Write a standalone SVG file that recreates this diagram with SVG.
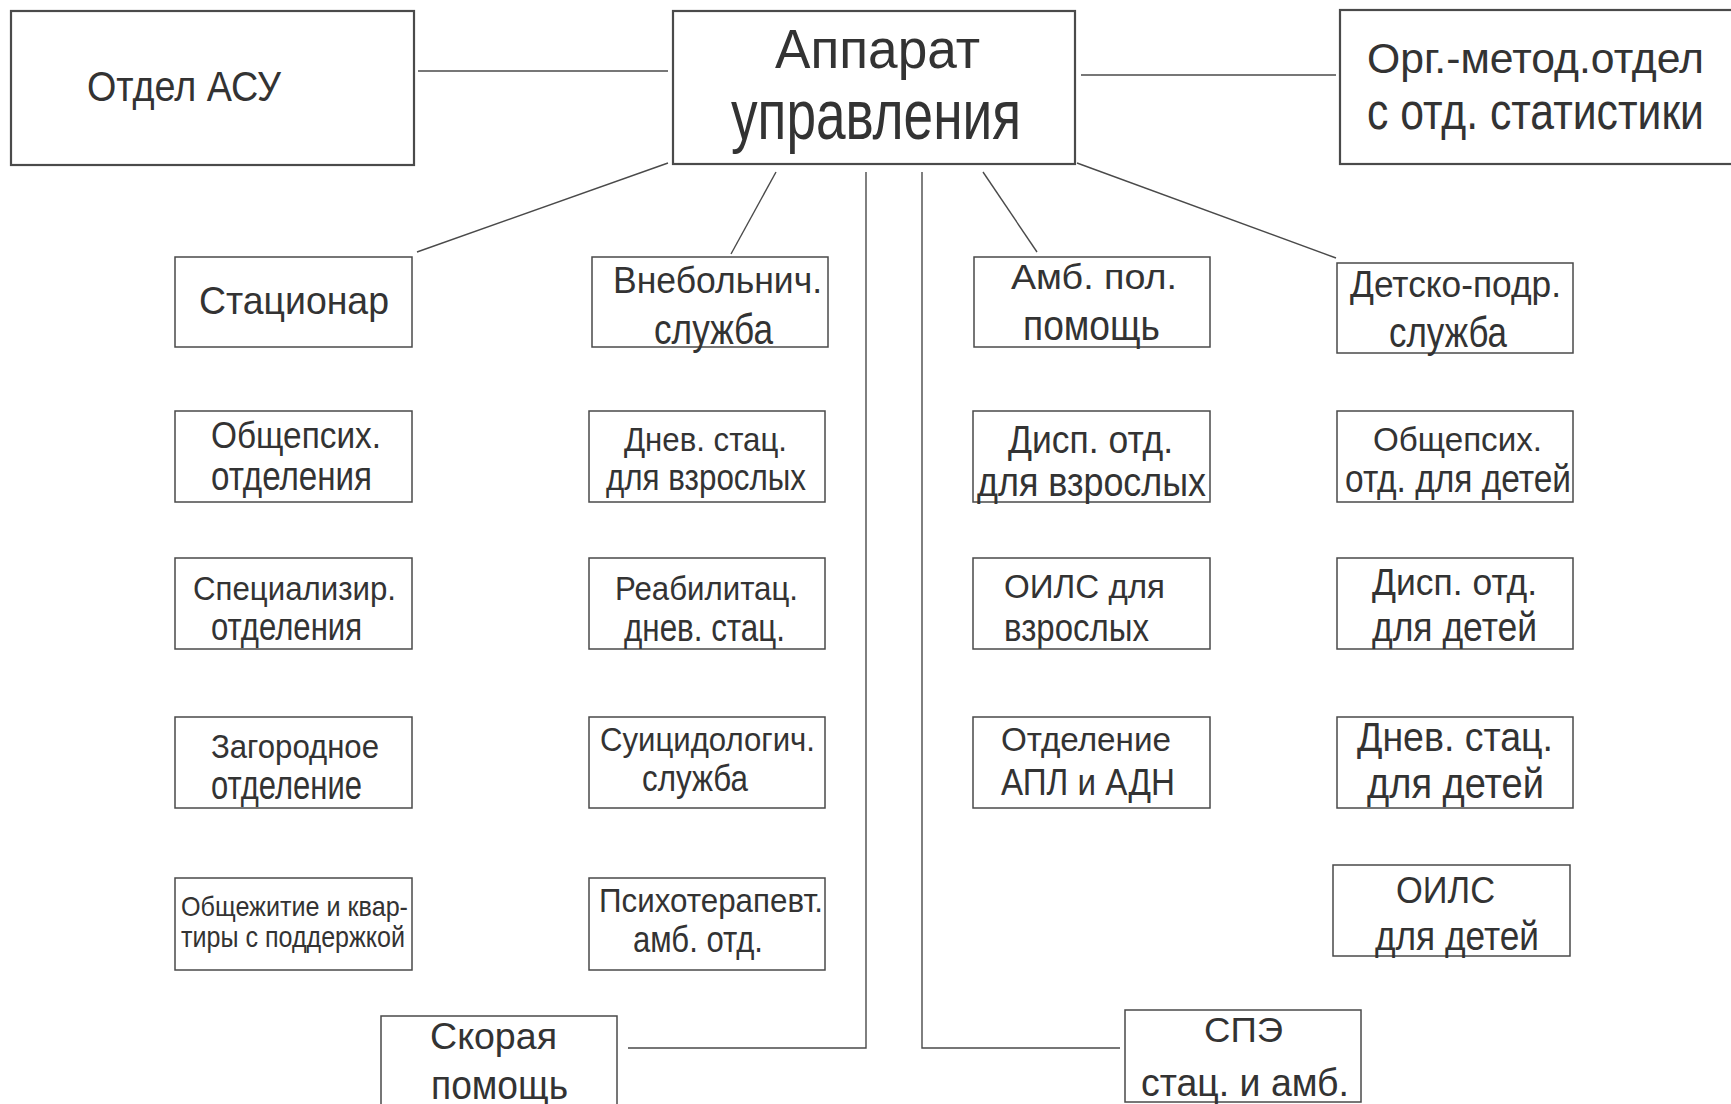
<svg xmlns="http://www.w3.org/2000/svg" width="1731" height="1104" viewBox="0 0 1731 1104">
<style>
.box{fill:#fff;stroke:#4a4a4a;stroke-width:1.5}
.big{stroke-width:2.2}
.t{font-family:"Liberation Sans",Arial,sans-serif;fill:#333}
.c{fill:none;stroke:#4a4a4a;stroke-width:1.4}
</style>
<rect width="1731" height="1104" fill="#fff"/>
<g id="connectors">
<line class="c" x1="418" y1="71" x2="668" y2="71"/>
<line class="c" x1="1081" y1="75" x2="1336" y2="75"/>
<line class="c" x1="668" y1="163" x2="417" y2="252"/>
<line class="c" x1="776" y1="172" x2="731" y2="254"/>
<polyline class="c" points="866,172 866,1048 628,1048"/>
<polyline class="c" points="922,172 922,1048 1120,1048"/>
<line class="c" x1="983" y1="172" x2="1037" y2="252"/>
<line class="c" x1="1077" y1="163" x2="1336" y2="258"/>
</g>
<g id="n_asu"><rect class="box big" x="11" y="11" width="403" height="154"/>
<text class="t" x="87" y="101" font-size="42" textLength="194" lengthAdjust="spacingAndGlyphs">Отдел АСУ</text></g>
<g id="n_app"><rect class="box big" x="673" y="11" width="402" height="153"/>
<text class="t" x="775" y="68" font-size="55" textLength="205" lengthAdjust="spacingAndGlyphs">Аппарат</text>
<text class="t" x="731" y="139" font-size="70" textLength="290" lengthAdjust="spacingAndGlyphs">управления</text></g>
<g id="n_org"><rect class="box big" x="1340" y="10" width="400" height="154"/>
<text class="t" x="1367" y="73" font-size="43" textLength="337" lengthAdjust="spacingAndGlyphs">Орг.-метод.отдел</text>
<text class="t" x="1367" y="129" font-size="52" textLength="337" lengthAdjust="spacingAndGlyphs">с отд. статистики</text></g>
<g id="n_stac"><rect class="box" x="175" y="257" width="237" height="90"/>
<text class="t" x="199" y="314" font-size="39" textLength="190" lengthAdjust="spacingAndGlyphs">Стационар</text></g>
<g id="n_vneb"><rect class="box" x="592" y="257" width="236" height="90"/>
<text class="t" x="613" y="293" font-size="36" textLength="209" lengthAdjust="spacingAndGlyphs">Внебольнич.</text>
<text class="t" x="654" y="344" font-size="42" textLength="119" lengthAdjust="spacingAndGlyphs">служба</text></g>
<g id="n_amb"><rect class="box" x="974" y="257" width="236" height="90"/>
<text class="t" x="1011" y="289" font-size="35" textLength="166" lengthAdjust="spacingAndGlyphs">Амб. пол.</text>
<text class="t" x="1023" y="340" font-size="42" textLength="137" lengthAdjust="spacingAndGlyphs">помощь</text></g>
<g id="n_det"><rect class="box" x="1337" y="263" width="236" height="90"/>
<text class="t" x="1350" y="297" font-size="37" textLength="211" lengthAdjust="spacingAndGlyphs">Детско-подр.</text>
<text class="t" x="1389" y="347" font-size="43" textLength="118" lengthAdjust="spacingAndGlyphs">служба</text></g>
<g id="n_obsh"><rect class="box" x="175" y="411" width="237" height="91"/>
<text class="t" x="211" y="448" font-size="36" textLength="170" lengthAdjust="spacingAndGlyphs">Общепсих.</text>
<text class="t" x="211" y="490" font-size="40" textLength="161" lengthAdjust="spacingAndGlyphs">отделения</text></g>
<g id="n_spec"><rect class="box" x="175" y="558" width="237" height="91"/>
<text class="t" x="193" y="600" font-size="34" textLength="203" lengthAdjust="spacingAndGlyphs">Специализир.</text>
<text class="t" x="211" y="640" font-size="38" textLength="151" lengthAdjust="spacingAndGlyphs">отделения</text></g>
<g id="n_zag"><rect class="box" x="175" y="717" width="237" height="91"/>
<text class="t" x="211" y="758" font-size="33" textLength="168" lengthAdjust="spacingAndGlyphs">Загородное</text>
<text class="t" x="211" y="799" font-size="40" textLength="151" lengthAdjust="spacingAndGlyphs">отделение</text></g>
<g id="n_obj"><rect class="box" x="175" y="878" width="237" height="92"/>
<text class="t" x="181" y="916" font-size="28" textLength="227" lengthAdjust="spacingAndGlyphs">Общежитие и квар-</text>
<text class="t" x="181" y="947" font-size="30" textLength="224" lengthAdjust="spacingAndGlyphs">тиры с поддержкой</text></g>
<g id="n_dnev"><rect class="box" x="589" y="411" width="236" height="91"/>
<text class="t" x="624" y="451" font-size="33" textLength="163" lengthAdjust="spacingAndGlyphs">Днев. стац.</text>
<text class="t" x="606" y="490" font-size="36" textLength="200" lengthAdjust="spacingAndGlyphs">для взрослых</text></g>
<g id="n_reab"><rect class="box" x="589" y="558" width="236" height="91"/>
<text class="t" x="615" y="600" font-size="33" textLength="183" lengthAdjust="spacingAndGlyphs">Реабилитац.</text>
<text class="t" x="624" y="641" font-size="38" textLength="161" lengthAdjust="spacingAndGlyphs">днев. стац.</text></g>
<g id="n_suic"><rect class="box" x="589" y="717" width="236" height="91"/>
<text class="t" x="600" y="751" font-size="34" textLength="215" lengthAdjust="spacingAndGlyphs">Суицидологич.</text>
<text class="t" x="642" y="791" font-size="36" textLength="106" lengthAdjust="spacingAndGlyphs">служба</text></g>
<g id="n_psih"><rect class="box" x="589" y="878" width="236" height="92"/>
<text class="t" x="599" y="912" font-size="33" textLength="224" lengthAdjust="spacingAndGlyphs">Психотерапевт.</text>
<text class="t" x="633" y="952" font-size="37" textLength="130" lengthAdjust="spacingAndGlyphs">амб. отд.</text></g>
<g id="n_disp"><rect class="box" x="973" y="411" width="237" height="91"/>
<text class="t" x="1008" y="453" font-size="39" textLength="165" lengthAdjust="spacingAndGlyphs">Дисп. отд.</text>
<text class="t" x="977" y="496" font-size="40" textLength="229" lengthAdjust="spacingAndGlyphs">для взрослых</text></g>
<g id="n_oils"><rect class="box" x="973" y="558" width="237" height="91"/>
<text class="t" x="1004" y="598" font-size="34" textLength="161" lengthAdjust="spacingAndGlyphs">ОИЛС для</text>
<text class="t" x="1004" y="641" font-size="38" textLength="145" lengthAdjust="spacingAndGlyphs">взрослых</text></g>
<g id="n_apl"><rect class="box" x="973" y="717" width="237" height="91"/>
<text class="t" x="1001" y="751" font-size="34" textLength="170" lengthAdjust="spacingAndGlyphs">Отделение</text>
<text class="t" x="1001" y="795" font-size="36" textLength="174" lengthAdjust="spacingAndGlyphs">АПЛ и АДН</text></g>
<g id="n_obshd"><rect class="box" x="1337" y="411" width="236" height="91"/>
<text class="t" x="1373" y="451" font-size="33" textLength="169" lengthAdjust="spacingAndGlyphs">Общепсих.</text>
<text class="t" x="1345" y="492" font-size="39" textLength="226" lengthAdjust="spacingAndGlyphs">отд. для детей</text></g>
<g id="n_dispd"><rect class="box" x="1337" y="558" width="236" height="91"/>
<text class="t" x="1372" y="595" font-size="37" textLength="165" lengthAdjust="spacingAndGlyphs">Дисп. отд.</text>
<text class="t" x="1372" y="641" font-size="40" textLength="165" lengthAdjust="spacingAndGlyphs">для детей</text></g>
<g id="n_dnevd"><rect class="box" x="1337" y="717" width="236" height="91"/>
<text class="t" x="1357" y="751" font-size="41" textLength="196" lengthAdjust="spacingAndGlyphs">Днев. стац.</text>
<text class="t" x="1367" y="798" font-size="42" textLength="177" lengthAdjust="spacingAndGlyphs">для детей</text></g>
<g id="n_oilsd"><rect class="box" x="1333" y="865" width="237" height="91"/>
<text class="t" x="1396" y="903" font-size="37" textLength="99" lengthAdjust="spacingAndGlyphs">ОИЛС</text>
<text class="t" x="1375" y="950" font-size="40" textLength="164" lengthAdjust="spacingAndGlyphs">для детей</text></g>
<g id="n_skor"><rect class="box" x="381" y="1016" width="236" height="100"/>
<text class="t" x="430" y="1049" font-size="36" textLength="127" lengthAdjust="spacingAndGlyphs">Скорая</text>
<text class="t" x="431" y="1099" font-size="40" textLength="137" lengthAdjust="spacingAndGlyphs">помощь</text></g>
<g id="n_spe"><rect class="box" x="1125" y="1010" width="236" height="92"/>
<text class="t" x="1204" y="1042" font-size="35" textLength="79" lengthAdjust="spacingAndGlyphs">СПЭ</text>
<text class="t" x="1141" y="1096" font-size="38" textLength="208" lengthAdjust="spacingAndGlyphs">стац. и амб.</text></g>
</svg>
